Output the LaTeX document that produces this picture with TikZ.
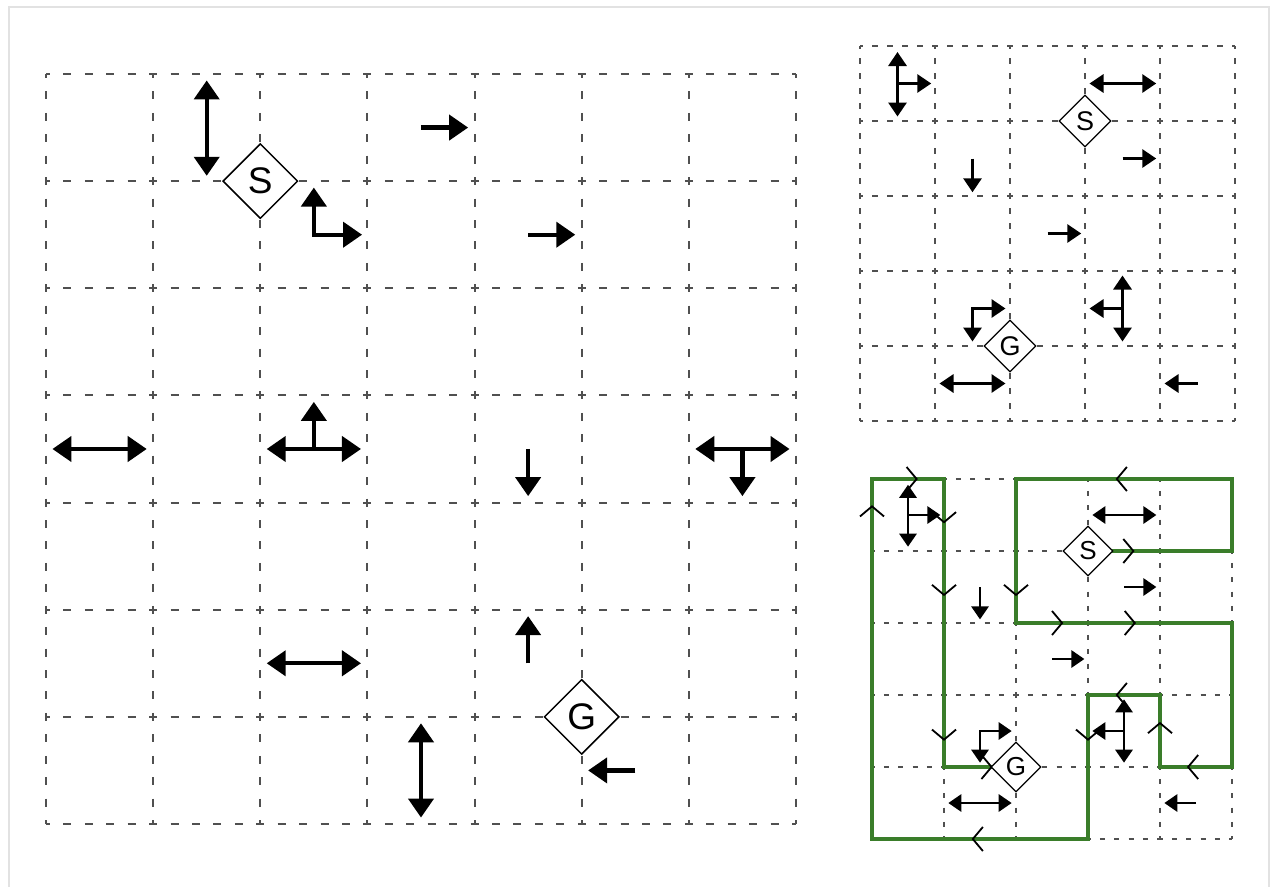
\documentclass[tikz,border=0pt]{standalone}
\usepackage{fontspec}
\setmainfont{Liberation Sans}
\usetikzlibrary{arrows.meta,shapes.geometric}
\definecolor{gridgray}{RGB}{80,80,80}
\definecolor{pathgreen}{RGB}{58,125,42}
\definecolor{framegray}{RGB}{226,226,226}

\tikzset{
  chev/.pic={\draw[black, line width=1.8pt] (-0.14,-0.167) -- (0,0) -- (-0.14,0.167);},
  route/.style={draw=pathgreen, line width=4.5pt, line join=miter},
}

\begin{document}
\begin{tikzpicture}[x=1pt,y=-1pt]
\useasboundingbox (0,0) rectangle (1273,886);
% outer frame
\draw[framegray, line width=1.5pt] (9,900) -- (9,7) -- (1269,7) -- (1269,900);

% ---------- large 7x7 board ----------
\begin{scope}[shift={(46pt,-74pt)}, x=107.14pt, y=-107.14pt,
  gridline/.style={draw=gridgray, line width=2.1pt, dash pattern=on 8pt off 13.43pt, dash phase=4pt},
  mv/.style={line width=4.2pt, -{Triangle[length=19pt,width=25pt]}},
  bi/.style={line width=4.2pt, {Triangle[length=19pt,width=25pt]}-{Triangle[length=19pt,width=25pt]}},
  state/.style={diamond, draw, line width=1.5pt, fill=white, minimum width=75pt, minimum height=75pt, inner sep=0pt, aspect=1, font=\fontsize{37}{37}\selectfont}]
  \foreach \k in {0,...,7} {
    \draw[gridline] (\k,0) -- (\k,7);
    \draw[gridline] (0,\k) -- (7,\k);
  }
  \draw[bi] (1.5,0.06) -- (1.5,0.95);
  \draw[bi] (2.5,1.06) -- (2.5,1.5) -- (2.95,1.5);
  \draw[mv] (3.5,0.5) -- (3.94,0.5);
  \draw[mv] (4.5,1.5) -- (4.94,1.5);
  \draw[bi] (0.06,3.5) -- (0.94,3.5);
  \draw[bi] (2.06,3.5) -- (2.94,3.5);
  \draw[mv] (2.5,3.5) -- (2.5,3.06);
  \draw[mv] (4.5,3.5) -- (4.5,3.94);
  \draw[bi] (6.06,3.5) -- (6.94,3.5);
  \draw[mv] (6.5,3.5) -- (6.5,3.94);
  \draw[mv] (4.5,5.5) -- (4.5,5.06);
  \draw[bi] (2.06,5.5) -- (2.94,5.5);
  \draw[bi] (3.5,6.06) -- (3.5,6.94);
  \draw[mv] (5.5,6.5) -- (5.06,6.5);
  \node[state] (bigS) at (2,1) {S};
  \node[state] (bigG) at (5,6) {G};
\end{scope}

% ---------- small 5x5 board, top ----------
\begin{scope}[shift={(860pt,-46pt)}, x=75pt, y=-75pt,
  gridline/.style={draw=gridgray, line width=1.4pt, dash pattern=on 5.5pt off 9.5pt, dash phase=2.75pt},
  mv/.style={line width=3.1pt, -{Triangle[length=14pt,width=18pt]}},
  bi/.style={line width=3.1pt, {Triangle[length=14pt,width=18pt]}-{Triangle[length=14pt,width=18pt]}},
  state/.style={diamond, draw, line width=1.2pt, fill=white, minimum width=52pt, minimum height=52pt, inner sep=0pt, aspect=1, font=\fontsize{27}{27}\selectfont}]
  \foreach \k in {0,...,5} {
    \draw[gridline] (\k,0) -- (\k,5);
    \draw[gridline] (0,\k) -- (5,\k);
  }
  \draw[bi] (0.5,0.08) -- (0.5,0.94);
  \draw[mv] (0.5,0.5) -- (0.95,0.5);
  \draw[bi] (3.06,0.5) -- (3.95,0.5);
  \draw[mv] (3.5,1.5) -- (3.95,1.5);
  \draw[mv] (1.5,1.5) -- (1.5,1.95);
  \draw[mv] (2.5,2.5) -- (2.95,2.5);
  \draw[bi] (3.5,3.06) -- (3.5,3.94);
  \draw[mv] (3.5,3.5) -- (3.06,3.5);
  \draw[bi] (1.5,3.94) -- (1.5,3.5) -- (1.94,3.5);
  \draw[bi] (1.06,4.5) -- (1.94,4.5);
  \draw[mv] (4.5,4.5) -- (4.06,4.5);
  \node[state] (topS) at (3,1) {S};
  \node[state] (topG) at (2,4) {G};
\end{scope}

% ---------- small 5x5 board, bottom, with the route ----------
\begin{scope}[shift={(872pt,-479pt)}, x=72pt, y=-72pt,
  gridline/.style={draw=gridgray, line width=1.3pt, dash pattern=on 5.3pt off 9.1pt, dash phase=2.65pt},
  mv/.style={line width=2.9pt, -{Triangle[length=13pt,width=17pt]}},
  bi/.style={line width=2.9pt, {Triangle[length=13pt,width=17pt]}-{Triangle[length=13pt,width=17pt]}},
  state/.style={diamond, draw, line width=1.2pt, fill=white, minimum width=50pt, minimum height=50pt, inner sep=0pt, aspect=1, font=\fontsize{26}{26}\selectfont}]
  \foreach \k in {0,...,5} {
    \draw[gridline] (\k,0) -- (\k,5);
    \draw[gridline] (0,\k) -- (5,\k);
  }
  \coordinate (start) at (3,1);
  \coordinate (goal) at (2,4);
  \draw[route] (start) -- (5,1) -- (5,0) -- (2,0) -- (2,2) -- (5,2) -- (5,4) -- (4,4)
     -- (4,3) -- (3,3) -- (3,5) -- (0,5) -- (0,0) -- (1,0) -- (1,4) -- (goal);
  % direction marks along the route
  \pic at (3.63,1) {chev};
  \pic[rotate=180] at (3.4,0) {chev};
  \pic[rotate=-90] at (2,1.61) {chev};
  \pic at (2.64,2) {chev};
  \pic at (3.65,2) {chev};
  \pic[rotate=180] at (4.39,4) {chev};
  \pic[rotate=90] at (4,3.39) {chev};
  \pic[rotate=180] at (3.4,3) {chev};
  \pic[rotate=-90] at (3,3.62) {chev};
  \pic[rotate=180] at (1.4,5) {chev};
  \pic[rotate=90] at (0,0.38) {chev};
  \pic at (0.62,0) {chev};
  \pic[rotate=-90] at (1,0.6) {chev};
  \pic[rotate=-90] at (1,1.61) {chev};
  \pic[rotate=-90] at (1,3.62) {chev};
  \pic at (1.66,4) {chev};
  % moves
  \draw[bi] (0.5,0.08) -- (0.5,0.94);
  \draw[mv] (0.5,0.5) -- (0.95,0.5);
  \draw[bi] (3.06,0.5) -- (3.95,0.5);
  \draw[mv] (3.5,1.5) -- (3.95,1.5);
  \draw[mv] (1.5,1.5) -- (1.5,1.95);
  \draw[mv] (2.5,2.5) -- (2.95,2.5);
  \draw[bi] (3.5,3.06) -- (3.5,3.94);
  \draw[mv] (3.5,3.5) -- (3.06,3.5);
  \draw[bi] (1.5,3.94) -- (1.5,3.5) -- (1.94,3.5);
  \draw[bi] (1.06,4.5) -- (1.94,4.5);
  \draw[mv] (4.5,4.5) -- (4.06,4.5);
  \node[state] (lowS) at (start) {S};
  \node[state] (lowG) at (goal) {G};
\end{scope}
\end{tikzpicture}
\end{document}
